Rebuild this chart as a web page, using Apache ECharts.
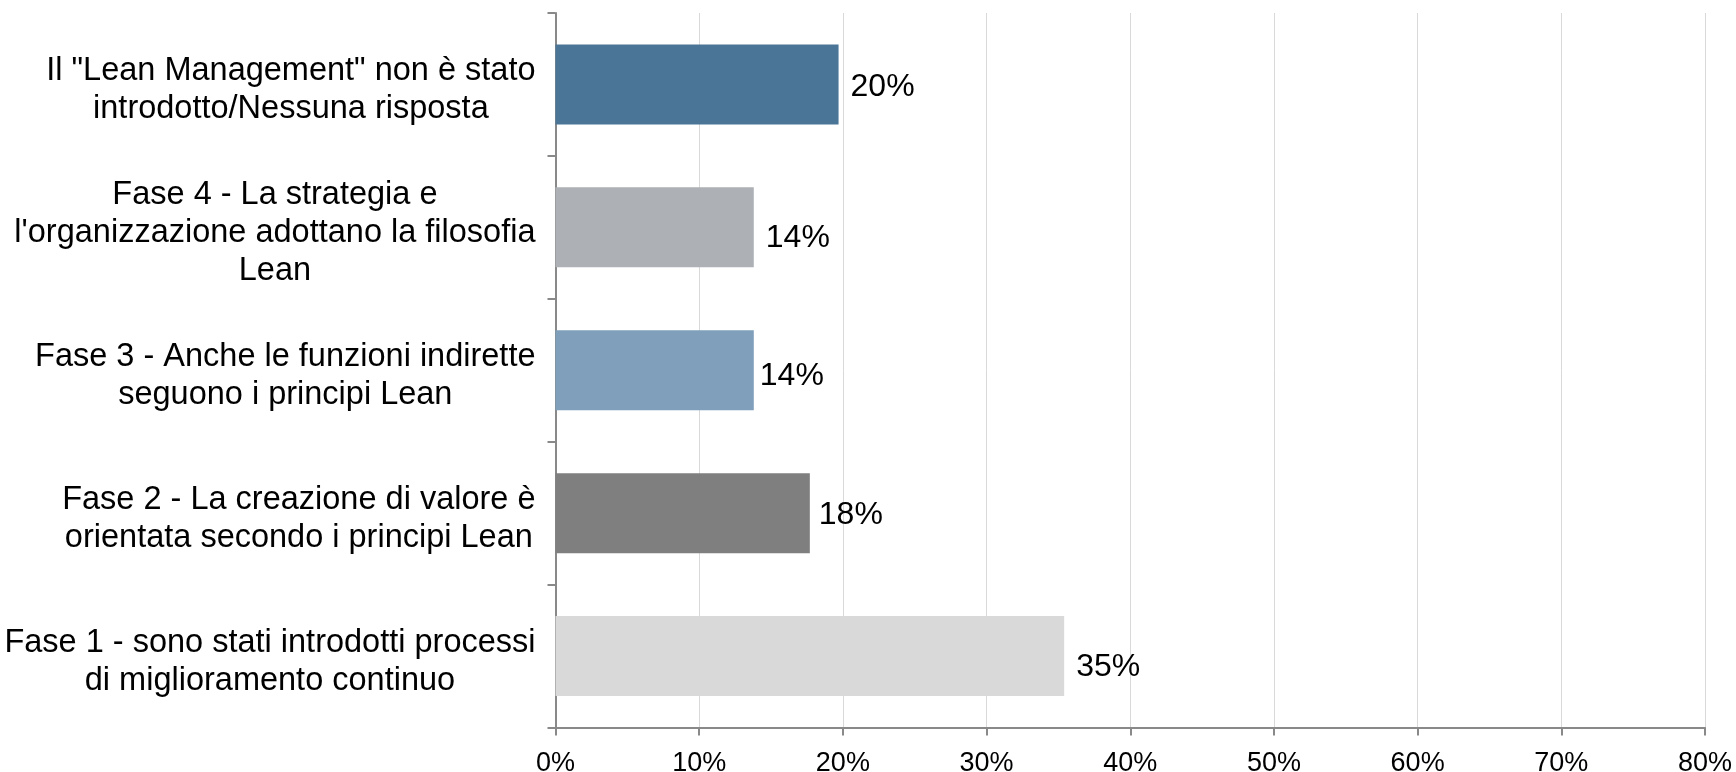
<!DOCTYPE html>
<html>
<head>
<meta charset="utf-8">
<script src="https://cdn.jsdelivr.net/npm/echarts@6/dist/echarts.min.js"></script>
<style>
html,body{margin:0;padding:0;background:#fff;}
#chart{width:1736px;height:772px;}
</style>
</head>
<body>
<div id="chart"></div>
<script>
// Categories, bottom to top
var categories = [
  "Fase 1 - sono stati introdotti processi\ndi miglioramento continuo",
  "Fase 2 - La creazione di valore è\norientata secondo i principi Lean",
  "Fase 3 - Anche le funzioni indirette\nseguono i principi Lean",
  "Fase 4 - La strategia e\nl'organizzazione adottano la filosofia\nLean",
  "Il \"Lean Management\" non è stato\nintrodotto/Nessuna risposta"
];
// Percent values
var values = [35.4, 17.7, 13.8, 13.8, 19.7];
var xTicks = [0, 10, 20, 30, 40, 50, 60, 70, 80];

// Styles (kept separate from data)
var barColors = ["#d9d9d9", "#7f7f7f", "#7f9fba", "#adb1b5", "#4a7596"];
var labelShift = [[1, 11], [-2, 2], [-5, 6], [1, 11], [1, 3]];

var chart = echarts.init(document.getElementById('chart'), null, {renderer: 'canvas'});
var font = "'Liberation Sans', Arial, sans-serif";

chart.setOption({
  animation: false,
  backgroundColor: '#ffffff',
  grid: {left: 555.5, right: 31, top: 13, bottom: 44.5, containLabel: false, outerBoundsMode: 'none'},
  xAxis: {
    type: 'value',
    min: xTicks[0],
    max: xTicks[xTicks.length - 1],
    interval: xTicks[1] - xTicks[0],
    axisLine: {show: true, lineStyle: {color: '#898989', width: 2}},
    axisTick: {show: true, length: 8, lineStyle: {color: '#898989', width: 2}},
    splitLine: {show: true, lineStyle: {color: '#d9d9d9', width: 1}},
    axisLabel: {
      formatter: function (v) { return v + '%'; },
      color: '#000', fontSize: 27, fontFamily: font, margin: 23
    }
  },
  yAxis: {
    type: 'category',
    data: categories,
    axisLine: {show: true, lineStyle: {color: '#898989', width: 2}},
    axisTick: {show: true, length: 8, lineStyle: {color: '#898989', width: 2}},
    splitLine: {show: false},
    axisLabel: {
      margin: 20,
      align: 'right',
      padding: [12, 0, 0, 0],
      formatter: function (v) {
        return v.split('\n').map(function (l) { return '{c|' + l + '}'; }).join('\n');
      },
      rich: {
        c: {align: 'center', fontSize: 32.5, lineHeight: 38, color: '#000', fontFamily: font}
      }
    }
  },
  series: [{
    type: 'bar',
    barWidth: 80,
    data: values.map(function (v, i) {
      return {value: v, itemStyle: {color: barColors[i]}, label: {offset: labelShift[i]}};
    }),
    label: {
      show: true,
      position: 'right',
      distance: 11,
      color: '#000',
      fontSize: 32,
      fontFamily: font,
      formatter: function (p) { return Math.round(p.value) + '%'; }
    }
  }]
});
</script>
</body>
</html>
